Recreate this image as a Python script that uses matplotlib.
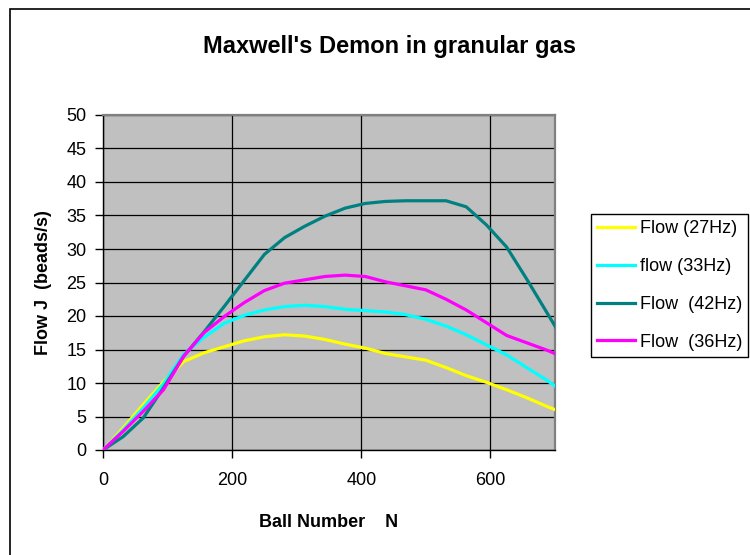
import matplotlib
matplotlib.use("Agg")
import matplotlib.pyplot as plt
from matplotlib.patches import Rectangle

plt.rcParams['font.family'] = ['Liberation Sans', 'DejaVu Sans']

ball_number = [0, 31.25, 62.5, 93.75, 125, 156.25, 187.5, 218.75, 250, 281.25,
               312.5, 343.75, 375, 406.25, 437.5, 468.75, 500, 531.25, 562.5,
               593.75, 625, 656.25, 687.5, 718.75]

flow_27 = [0, 3.3, 6.8, 10.2, 13.2, 14.5, 15.4, 16.3, 16.9, 17.2, 17.0, 16.5,
           15.8, 15.2, 14.4, 13.9, 13.4, 12.3, 11.1, 10.1, 9.0, 7.8, 6.5, 5.3]
flow_33 = [0, 3.0, 6.3, 9.9, 14.3, 16.8, 18.9, 20.1, 20.9, 21.4, 21.6, 21.4,
           21.0, 20.8, 20.6, 20.2, 19.5, 18.5, 17.2, 15.7, 14.2, 12.3, 10.4, 8.3]
flow_42 = [0, 2.0, 4.8, 9.3, 14.0, 17.6, 21.4, 25.3, 29.2, 31.7, 33.4, 34.9,
           36.1, 36.8, 37.1, 37.2, 37.2, 37.2, 36.3, 33.6, 30.3, 25.5, 20.5, 15.5]
flow_36 = [0, 2.8, 5.8, 9.0, 14.0, 17.5, 19.9, 22.0, 23.8, 24.9, 25.4, 25.9,
           26.1, 25.9, 25.1, 24.5, 23.9, 22.5, 20.9, 19.0, 17.1, 16.0, 14.9, 13.6]

series_labels = ['Flow (27Hz)', 'flow (33Hz)', 'Flow  (42Hz)', 'Flow  (36Hz)']
series_colors = ['#FFFF00', '#00FFFF', '#008080', '#FF00FF']
x_ticks = [0, 200, 400, 600]
y_ticks = [0, 5, 10, 15, 20, 25, 30, 35, 40, 45, 50]

W, H = 750, 555
fig = plt.figure(figsize=(W / 100, H / 100), dpi=100)
fig.patch.set_facecolor('white')

ax = fig.add_axes([103 / W, (H - 450) / H, (555 - 103) / W, (450 - 115) / H])
ax.set_facecolor('#C0C0C0')

for ys, lab, col in zip([flow_27, flow_33, flow_42, flow_36], series_labels, series_colors):
    ax.plot(ball_number, ys, color=col, lw=2.3, label=lab, solid_joinstyle='miter', zorder=3)

ax.set_xlim(0, 700)
ax.set_ylim(0, 50)
ax.set_xticks(x_ticks)
ax.set_yticks(y_ticks)
ax.grid(True, color='black', lw=0.9, zorder=1)
ax.set_axisbelow(True)

for s in ['top', 'right']:
    ax.spines[s].set_color('#808080')
    ax.spines[s].set_linewidth(1.6)
for s in ['left', 'bottom']:
    ax.spines[s].set_color('black')
    ax.spines[s].set_linewidth(1.0)

ax.tick_params(axis='both', direction='out', length=6, width=1, color='black',
               labelsize=13)
ax.tick_params(axis='x', pad=10)
ax.tick_params(axis='y', pad=6)

ax.set_xlabel('Ball Number    N', fontsize=13, fontweight='bold', labelpad=17.5)
ax.set_ylabel('Flow J  (beads/s)', fontsize=13, fontweight='bold', labelpad=10)

fig.text(389 / W, 1 - 46 / H, "Maxwell's Demon in granular gas", fontsize=17,
         fontweight='bold', ha='center', va='center')

# chart area border (extends past the image)
fig.add_artist(Rectangle((10 / W, -0.1), 1.2, (H - 9) / H + 0.1,
                         transform=fig.transFigure, fill=False, lw=1.2,
                         edgecolor='black'))

handles, labels = ax.get_legend_handles_labels()
leg = fig.legend(handles, labels, loc='upper left',
                 bbox_to_anchor=(591 / W, 1 - 214 / H), fontsize=13,
                 frameon=True, fancybox=False, edgecolor='black', framealpha=1,
                 handlelength=2.1, handletextpad=0.25, labelspacing=1.15,
                 borderpad=0.35, borderaxespad=0)
leg.get_frame().set_linewidth(1.0)

fig.savefig('out.png', dpi=100)
